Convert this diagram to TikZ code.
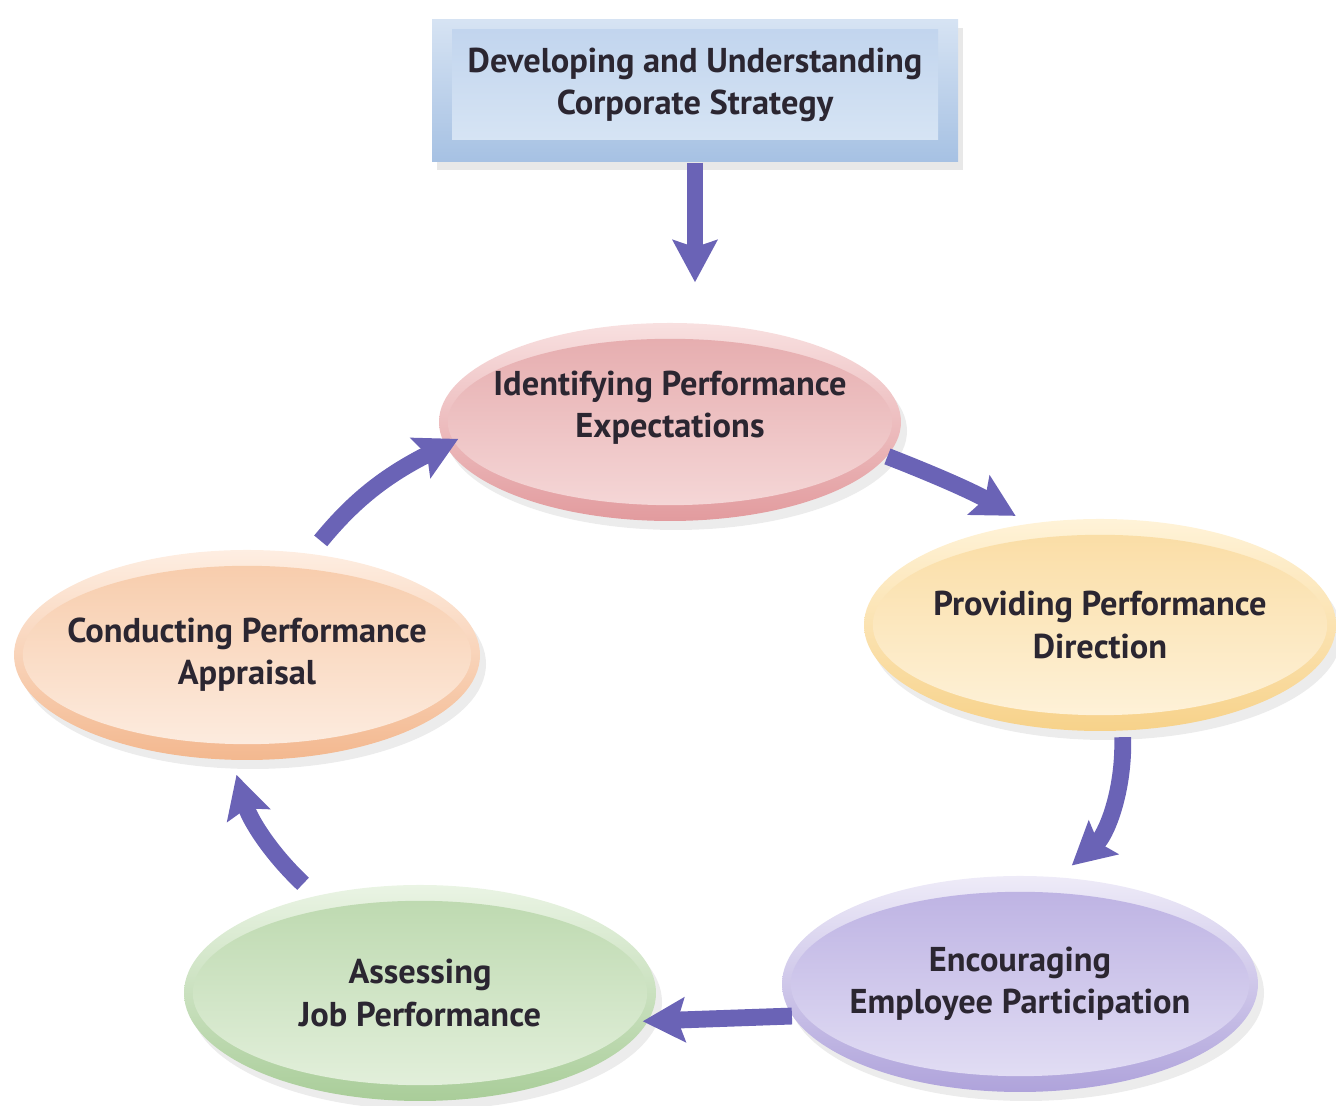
\documentclass[tikz,border=0pt]{standalone}
\usepackage{fontspec}
\setmainfont{PT Sans}
\usetikzlibrary{arrows.meta,shapes.geometric,shadows,calc}

\definecolor{flow}{HTML}{6A63B6}
\definecolor{inktext}{HTML}{2B2631}
\definecolor{boxrim}{HTML}{A6C1E3}
\definecolor{boxhi}{HTML}{D6E3F3}
\definecolor{boxtop}{HTML}{C2D5EE}
\definecolor{boxfill}{HTML}{D6E4F4}
% rim highlight, rim shade, inner top, inner bottom
\definecolor{pinkhi}{HTML}{F8E0E0}
\definecolor{pinkrim}{HTML}{E29B9E}
\definecolor{pinktop}{HTML}{E5AAAC}
\definecolor{pinkbot}{HTML}{F6DADA}
\definecolor{yellowhi}{HTML}{FFF3D8}
\definecolor{yellowrim}{HTML}{F7D28A}
\definecolor{yellowtop}{HTML}{FADCA2}
\definecolor{yellowbot}{HTML}{FEF3DC}
\definecolor{purplehi}{HTML}{EEEBF8}
\definecolor{purplerim}{HTML}{AFA3DB}
\definecolor{purpletop}{HTML}{BBB0E2}
\definecolor{purplebot}{HTML}{E4E0F5}
\definecolor{greenhi}{HTML}{EAF4E4}
\definecolor{greenrim}{HTML}{A9CD99}
\definecolor{greentop}{HTML}{BBD8AD}
\definecolor{greenbot}{HTML}{E5F1DE}
\definecolor{orangehi}{HTML}{FEEEE2}
\definecolor{orangerim}{HTML}{F3B88F}
\definecolor{orangetop}{HTML}{F7CAA8}
\definecolor{orangebot}{HTML}{FDEEE3}

\begin{document}
\begin{tikzpicture}[
        label text/.style={text=inktext, align=center,
            font=\bfseries\fontsize{9.8}{12}\selectfont},
        stage/.style={ellipse, label text, inner xsep=-0.6cm, inner ysep=0pt,
            top color=#1hi, bottom color=#1rim,
            path picture={
                \shade[top color=#1top, bottom color=#1bot]
                    let \p1=(path picture bounding box.north east),
                        \p2=(path picture bounding box.center) in
                    (\p2) ellipse [x radius=\x1-\x2-2.5pt, y radius=\y1-\y2-4.5pt];
            },
            drop shadow={shadow xshift=0.06cm, shadow yshift=-0.09cm, opacity=0.15}},
        cycle arrow/.style={draw=flow, line width=4.8pt,
            -{Stealth[length=0.42cm, width=0.44cm, inset=0.07cm]}}
    ]
        \useasboundingbox (0,0) rectangle (13.36,11.06);

        % strategy box on top
        \node[minimum width=5.26cm, minimum height=1.42cm, top color=boxhi, bottom color=boxrim,
            drop shadow={shadow xshift=0.05cm, shadow yshift=-0.08cm, opacity=0.18}] (strategy) at (6.95,10.15) {};
        \node[label text, minimum width=4.86cm, minimum height=1.10cm, top color=boxtop, bottom color=boxfill]
            (strategytext) at (6.95,10.21) {Developing and Understanding\\Corporate Strategy};

        % the five stages
        \node[stage=pink, minimum width=4.62cm, minimum height=1.98cm, text depth=10pt]
            (expect) at (6.70,6.84) {Identifying Performance\\Expectations};
        \node[stage=yellow, minimum width=4.72cm, minimum height=2.12cm]
            (direct) at (11.00,4.81) {Providing Performance\\Direction};
        \node[stage=purple, minimum width=4.76cm, minimum height=2.16cm]
            (partic) at (10.20,1.22) {Encouraging\\Employee Participation};
        \node[stage=green, minimum width=4.72cm, minimum height=2.16cm]
            (assess) at (4.20,1.13) {Assessing\\Job Performance};
        \node[stage=orange, minimum width=4.66cm, minimum height=2.10cm]
            (apprais) at (2.47,4.51) {Conducting Performance\\Appraisal};

        % arrows
        \draw[cycle arrow, shorten >=0.4cm] (strategy.south) -- (strategy.south |- expect.north);
        \draw[cycle arrow, shorten >=0.15cm] (expect.-9) to[bend left=4] (direct.125);
        \draw[cycle arrow, shorten <=0.06cm, shorten >=0.17cm] (direct.-78) to[bend left=25] (partic.70);
        \draw[cycle arrow, shorten >=-0.06cm] (partic.188) -- (assess.-7);
        \draw[cycle arrow, shorten <=0.17cm, shorten >=0.15cm] (assess.137) to[bend left=15] (apprais.-98);
        \draw[cycle arrow, shorten <=0.16cm, shorten >=-0.15cm] (apprais.58) to[bend left=12] (expect.186);
    \end{tikzpicture}
\end{document}
